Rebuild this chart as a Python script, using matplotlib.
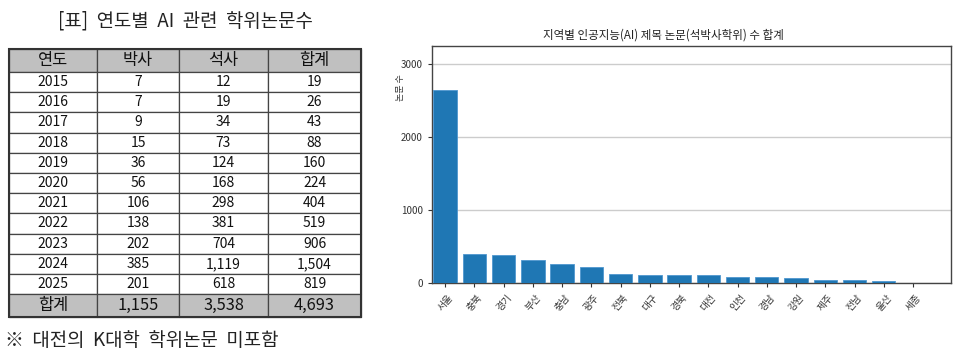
import matplotlib
matplotlib.use('Agg')
from matplotlib import pyplot as plt
from matplotlib.patches import Rectangle

plt.rcParams['font.family'] = ['Noto Sans CJK KR', 'DejaVu Sans']

# table data
header = ['연도', '박사', '석사', '합계']
years = ['2015', '2016', '2017', '2018', '2019', '2020', '2021', '2022', '2023', '2024', '2025']
phd = ['7', '7', '9', '15', '36', '56', '106', '138', '202', '385', '201']
masters = ['12', '19', '34', '73', '124', '168', '298', '381', '704', '1,119', '618']
totals = ['19', '26', '43', '88', '160', '224', '404', '519', '906', '1,504', '819']
sum_row = ['합계', '1,155', '3,538', '4,693']

# chart data
regions = ['서울', '충북', '경기', '부산', '충남', '광주', '전북', '대구', '경북',
           '대전', '인천', '경남', '강원', '제주', '전남', '울산', '세종']
counts = [2640, 400, 380, 315, 256, 215, 127, 105, 105, 108, 86, 86, 73, 41, 41, 32, 0]


def main():
    fig = plt.figure(figsize=(9.6, 3.55), dpi=100)

    # left side: table drawn in pixel coordinates
    bg = fig.add_axes([0, 0, 1, 1])
    bg.set_xlim(0, 960)
    bg.set_ylim(355, 0)
    bg.axis('off')

    bg.text(185, 21, '[표]  연도별  AI  관련  학위논문수', fontsize=13.6,
            ha='center', va='center', color='#222222')
    bg.text(5, 340, '※  대전의  K대학  학위논문  미포함', fontsize=13.6,
            ha='left', va='center', color='#222222')

    col_x = [9, 97, 179, 268, 361]
    rows = [header] + [[y, p, m, t] for y, p, m, t in zip(years, phd, masters, totals)] + [sum_row]
    heights = [23] + [20.2] * len(years) + [23]
    top = 49
    for r, (row, h) in enumerate(zip(rows, heights)):
        shaded = r == 0 or r == len(rows) - 1
        fs = 11.8 if shaded else 10
        for c, val in enumerate(row):
            x0, x1 = col_x[c], col_x[c + 1]
            bg.add_patch(Rectangle((x0, top), x1 - x0, h,
                                   facecolor='#c0c0c0' if shaded else 'white',
                                   edgecolor='#444444', linewidth=0.9))
            bg.text((x0 + x1) / 2, top + h / 2, val, fontsize=fs,
                    ha='center', va='center', color='#111111')
        top += h
    bg.add_patch(Rectangle((col_x[0], 49), col_x[-1] - col_x[0], top - 49,
                           fill=False, edgecolor='#333333', linewidth=1.5))

    # right side: bar chart
    ax = fig.add_axes([432 / 960, 1 - 283 / 355, (951 - 432) / 960, (283 - 46) / 355])
    ax.bar(range(len(regions)), counts, width=0.8, color='#1f77b4',
           edgecolor='#4f97cf', linewidth=0.6, zorder=3)
    ax.set_xlim(-0.45, 17.3)
    ax.set_ylim(0, 3250)
    ax.set_yticks([0, 1000, 2000, 3000])
    ax.set_xticks(range(len(regions)))
    ax.set_xticklabels(regions, rotation=50)
    ax.tick_params(labelsize=7, colors='#333333', length=3, width=0.8)
    ax.grid(axis='y', color='#cccccc', linewidth=1, zorder=0)
    for s in ax.spines.values():
        s.set_color('#444444')
        s.set_linewidth(1)

    fig.text(663 / 960, 1 - 35 / 355, '지역별 인공지능(AI) 제목 논문(석박사학위) 수 합계',
             fontsize=8.3, ha='center', va='center', color='#222222')
    fig.text(400 / 960, 1 - 88 / 355, '논문 수', fontsize=6.5, rotation=90,
             ha='center', va='center', color='#333333')

    fig.savefig('out.png', dpi=100)


if __name__ == '__main__':
    main()
